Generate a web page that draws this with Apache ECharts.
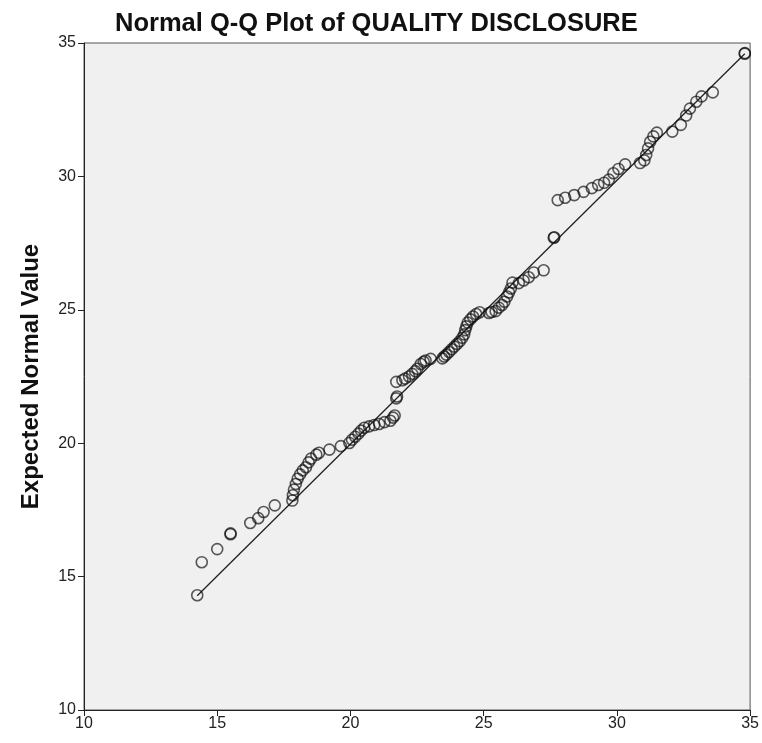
<!DOCTYPE html>
<html>
<head>
<meta charset="utf-8">
<script src="https://cdn.jsdelivr.net/npm/echarts@6/dist/echarts.min.js"></script>
<style>
html,body{margin:0;padding:0;background:#fff;}
#chart{width:762px;height:743px;}
</style>
</head>
<body>
<div id="chart"></div>
<script>
// Observed values (x) and expected normal values (y)
var observed = [14.25,14.42,15.0,15.5,15.5,16.24,16.54,16.74,17.16,17.82,17.84,17.88,17.95,18.02,18.11,18.21,18.33,18.43,18.52,18.72,18.82,19.21,19.64,19.96,20.06,20.18,20.30,20.40,20.52,20.70,20.89,21.08,21.28,21.50,21.60,21.66,21.72,21.75,21.72,21.95,22.05,22.2,22.32,22.43,22.51,22.64,22.75,22.82,23.01,23.45,23.52,23.6,23.7,23.8,23.9,24.0,24.1,24.2,24.27,24.31,24.35,24.4,24.5,24.6,24.72,24.85,25.2,25.3,25.45,25.57,25.69,25.78,25.88,25.95,26.02,26.08,26.32,26.5,26.69,26.88,27.25,27.63,27.65,27.78,28.06,28.4,28.75,29.06,29.3,29.52,29.7,29.87,30.06,30.31,30.87,31.03,31.1,31.17,31.25,31.37,31.5,32.08,32.4,32.6,32.74,32.98,33.18,33.6,34.8,34.8];
var expected = [14.3,15.54,16.03,16.59,16.62,17.01,17.19,17.42,17.67,17.85,18.05,18.26,18.47,18.67,18.83,18.98,19.10,19.28,19.42,19.57,19.64,19.76,19.89,20.01,20.13,20.24,20.36,20.47,20.58,20.63,20.68,20.72,20.79,20.84,20.96,21.04,21.68,21.75,22.30,22.36,22.42,22.5,22.6,22.7,22.79,22.97,23.05,23.10,23.16,23.18,23.25,23.32,23.42,23.52,23.62,23.72,23.82,23.95,24.08,24.24,24.38,24.52,24.64,24.75,24.84,24.91,24.88,24.92,24.95,25.08,25.18,25.3,25.5,25.65,25.8,26.02,26.0,26.1,26.22,26.4,26.48,27.70,27.72,29.11,29.2,29.3,29.42,29.56,29.68,29.76,29.88,30.12,30.28,30.45,30.5,30.6,30.8,31.05,31.3,31.5,31.64,31.68,31.93,32.28,32.54,32.8,33.0,33.15,34.6,34.62];
var refLineX = [14.25, 34.8];
var refLineY = [14.28, 34.6];
var axisTicks = [10, 15, 20, 25, 30, 35];

var points = observed.map(function(v, i){ return [v, expected[i]]; });
var linePts = refLineX.map(function(v, i){ return [v, refLineY[i]]; });

var chart = echarts.init(document.getElementById('chart'), null, {renderer:'canvas'});
var font = "'Liberation Sans', Arial, sans-serif";
chart.setOption({
  animation: false,
  backgroundColor: '#ffffff',
  title: {
    text: 'Normal Q-Q Plot of QUALITY DISCLOSURE',
    left: 110, top: 6,
    textStyle: {fontFamily: font, fontWeight: 'bold', fontSize: 25.5, color: '#111'}
  },
  grid: {
    left: 84, right: 10, top: 43, bottom: 33,
    show: true, backgroundColor: '#f0f0f0', borderColor: '#555', borderWidth: 1
  },
  xAxis: {
    type: 'value', min: axisTicks[0], max: axisTicks[axisTicks.length-1], interval: 5,
    axisLine: {show: true, onZero: false, lineStyle: {color: '#222', width: 1}},
    axisTick: {show: true, length: 6, lineStyle: {color: '#222'}},
    axisLabel: {fontFamily: font, fontSize: 16, color: '#222', margin: 6},
    splitLine: {show: false}
  },
  yAxis: {
    type: 'value', min: axisTicks[0], max: axisTicks[axisTicks.length-1], interval: 5,
    name: 'Expected Normal Value', nameLocation: 'middle', nameGap: 41, nameRotate: 90,
    nameTextStyle: {fontFamily: font, fontWeight: 'bold', fontSize: 24, color: '#111'},
    axisLine: {show: true, onZero: false, lineStyle: {color: '#222', width: 1}},
    axisTick: {show: true, length: 6, lineStyle: {color: '#222'}},
    axisLabel: {fontFamily: font, fontSize: 16, color: '#222', margin: 8},
    splitLine: {show: false}
  },
  series: [
    {
      type: 'line', data: linePts, symbol: 'none', silent: true,
      lineStyle: {color: '#222', width: 1.3}, z: 1
    },
    {
      type: 'scatter', data: points, symbol: 'circle', symbolSize: 11,
      itemStyle: {color: 'rgba(0,0,0,0)', borderColor: 'rgba(15,15,15,0.85)', borderWidth: 1.6},
      z: 2
    }
  ]
});
</script>
</body>
</html>
